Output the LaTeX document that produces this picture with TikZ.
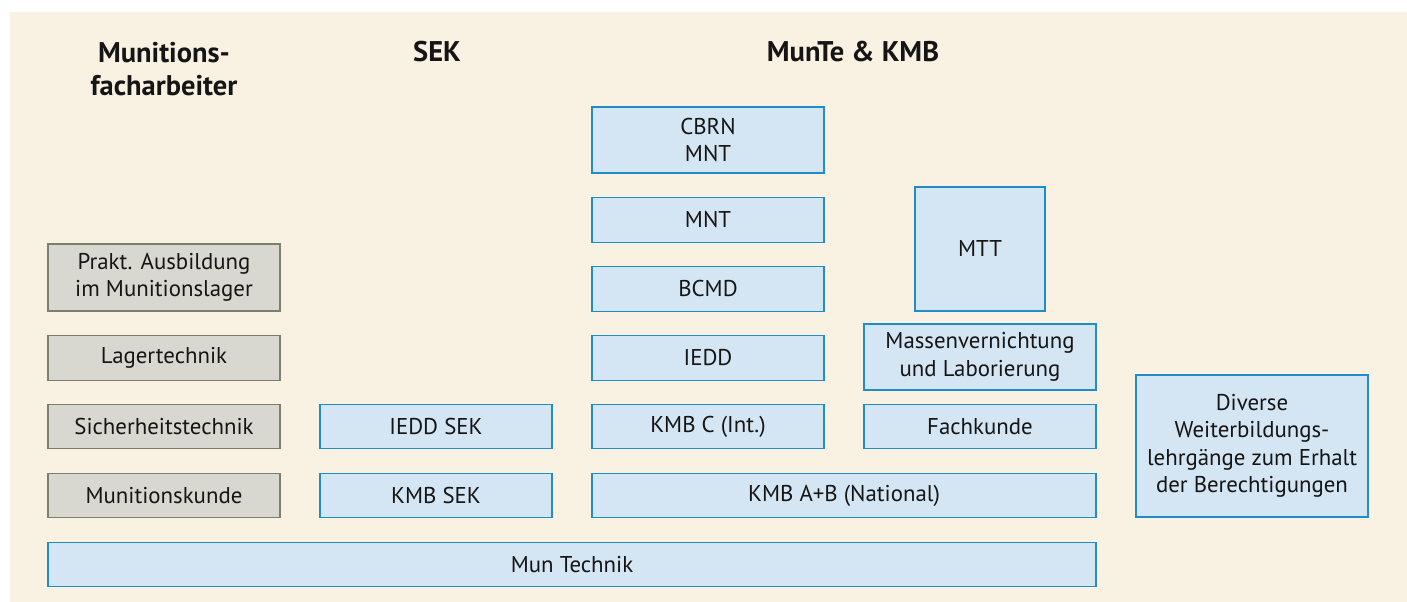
\documentclass[tikz,border=0pt]{standalone}
\usepackage{fontspec}
\setmainfont{PT Sans}
\definecolor{hintergrund}{HTML}{F9F2E3}
\definecolor{blaufuell}{HTML}{D4E5F3}
\definecolor{blaurand}{HTML}{1E8DC8}
\definecolor{graufuell}{HTML}{D8D8D1}
\definecolor{graurand}{HTML}{7B806D}
\definecolor{schrift}{HTML}{151515}
\begin{document}
\begin{tikzpicture}[
    x=0.02cm, y=-0.02cm,
    kurs/.style={draw, line width=0.8pt, align=center, inner sep=2pt,
      text=schrift, font=\fontsize{13}{15.6}\selectfont,
      minimum width=4.64cm, minimum height=0.89cm},
    blau/.style={kurs, fill=blaufuell, draw=blaurand},
    grau/.style={kurs, fill=graufuell, draw=graurand},
    kopf/.style={align=center, text=schrift, font=\fontsize{16.2}{18.7}\selectfont\bfseries}]
    \useasboundingbox (0,0) rectangle (1407,602);
    \fill [hintergrund] (10,12) rectangle (1407,602);
    % Ueberschriften
    \node [kopf] (h1) at (164,69) {Munitions-\\facharbeiter};
    \node [kopf] (h2) at (437,52) {SEK};
    \node [kopf] (h3) at (853,52) {MunTe \& KMB};
    % Munitionsfacharbeiter
    \node [grau, minimum height=1.34cm] (prakt) at (164,277.5) {Prakt. Ausbildung\\im Munitionslager};
    \node [grau] (lager) at (164,358) {Lagertechnik};
    \node [grau] (sicher) at (164,426.5) {Sicherheitstechnik};
    \node [grau] (kunde) at (164,495.5) {Munitionskunde};
    % SEK
    \node [blau] (ieddsek) at (436,426.5) {IEDD SEK};
    \node [blau] (kmbsek) at (436,495.5) {KMB SEK};
    % MunTe & KMB
    \node [blau, minimum height=1.32cm] (cbrn) at (708,140) {CBRN\\MNT};
    \node [blau] (mnt) at (708,220) {MNT};
    \node [blau] (bcmd) at (708,289) {BCMD};
    \node [blau] (iedd) at (708,358) {IEDD};
    \node [blau] (kmbc) at (708,426.5) {KMB C (Int.)};
    \node [blau, minimum width=10.08cm] (kmbab) at (844,495.5) {KMB A+B (National)};
    \node [blau, minimum width=2.6cm, minimum height=2.48cm] (mtt) at (980,249) {MTT};
    \node [blau, minimum height=1.32cm] (massen) at (980,357) {Massenvernichtung\\und Laborierung};
    \node [blau] (fach) at (980,426.5) {Fachkunde};
    \node [blau, minimum height=2.84cm] (diverse) at (1252,446) {Diverse\\Weiterbildungs-\\lehrgänge zum Erhalt\\der Berechtigungen};
    % Basis
    \node [blau, minimum width=20.96cm] (technik) at (572,564.5) {Mun Technik};
  \end{tikzpicture}
\end{document}
